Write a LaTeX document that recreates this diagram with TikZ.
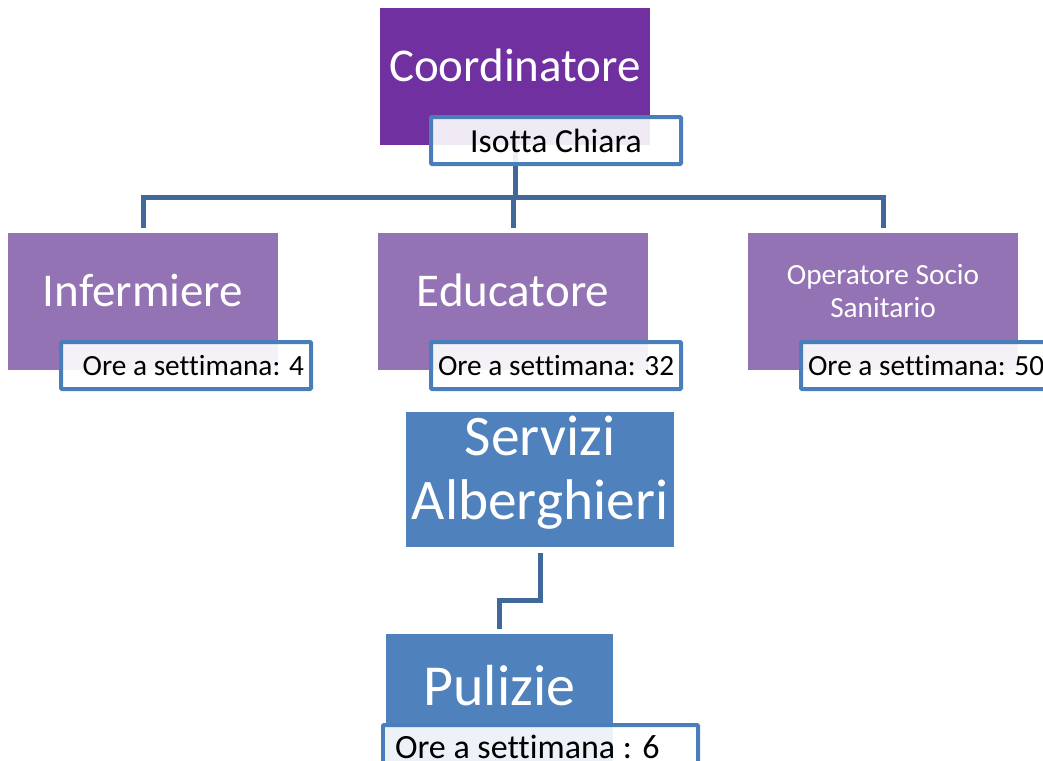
\documentclass[tikz,border=0pt]{standalone}
\usepackage{fontspec}
\setmainfont{Carlito}[Ligatures=NoCommon]
\usepackage{tikz}
\usetikzlibrary{positioning}

\definecolor{coordviola}{HTML}{7030A0}
\definecolor{ruoloviola}{HTML}{9473B5}
\definecolor{servblu}{HTML}{4F81BD}
\definecolor{bordoblu}{HTML}{4A7EBB}
\definecolor{lineablu}{HTML}{41689A}

\begin{document}
\begin{tikzpicture}[x=1pt,y=-1pt]
			\tikzset{
				ruolo/.style={fill=ruoloviola, text=white, anchor=north west, inner sep=0pt, outer sep=0pt,
					minimum width=270pt, minimum height=137pt, font=\fontsize{47}{56}\selectfont,
					text height=30pt, text depth=20pt},
				servizio/.style={ruolo, fill=servblu, minimum width=268pt, minimum height=135pt},
				ore/.style={draw=bordoblu, line width=4pt, fill=white, fill opacity=0.9, text opacity=1,
					rounded corners=1pt, anchor=north west, outer sep=0pt, inner xsep=7pt,
					minimum width=250pt, minimum height=47pt, font=\fontsize{29.3}{35}\selectfont},
				ramo/.style={draw=lineablu, line width=5pt}
			}

			\useasboundingbox (0,0) rectangle (1043,760);

			\node[ruolo, fill=coordviola] (coord) at (380,8){Coordinatore};
			\node[ruolo] (inf) at (8,233){Infermiere};
			\node[ruolo] (edu) at (378,233){Educatore};
			\node[ruolo, align=center, font=\fontsize{29.3}{33}\selectfont,
				text height=51pt, text depth=20pt] (oss) at (748,233){Operatore Socio\\Sanitario};
			\node[servizio, align=center, font=\fontsize{57.4}{64}\selectfont,
				text height=99pt, text depth=20pt] (serv) at (406,412){Servizi\\Alberghieri};
			\node[servizio, minimum width=227pt, minimum height=137pt, font=\fontsize{58}{70}\selectfont,
				text height=37pt, text depth=31pt] (pul) at (386,634){Pulizie};

			\draw[ramo] (coord.south) -- ++(0,52) coordinate (snodo);
			\draw[ramo, shorten >=5pt] (snodo) -| (inf.north);
			\draw[ramo, shorten >=5pt] (snodo) -| (edu.north);
			\draw[ramo, shorten >=5pt] (snodo) -| (oss.north);
			\draw[ramo, shorten <=6pt, shorten >=5pt] (serv.south) -- ++(0,53) -| (pul.north);

			\node[ore, font=\fontsize{33.7}{40}\selectfont] (isotta) at (431,117){Isotta Chiara};
			\node[ore, text width=236pt, align=flush right] (ore4) at (61,342){Ore a settimana: 4};
			\node[ore] (ore32) at (431,342){Ore a settimana: 32};
			\node[ore] (ore50) at (801,342){Ore a settimana: 50};
			\node[ore, minimum height=44pt, text width=291pt, inner xsep=12pt, align=flush left,
				font=\fontsize{34}{40}\selectfont] (ore6) at (383,725){Ore a settimana : 6};
		\end{tikzpicture}
\end{document}
